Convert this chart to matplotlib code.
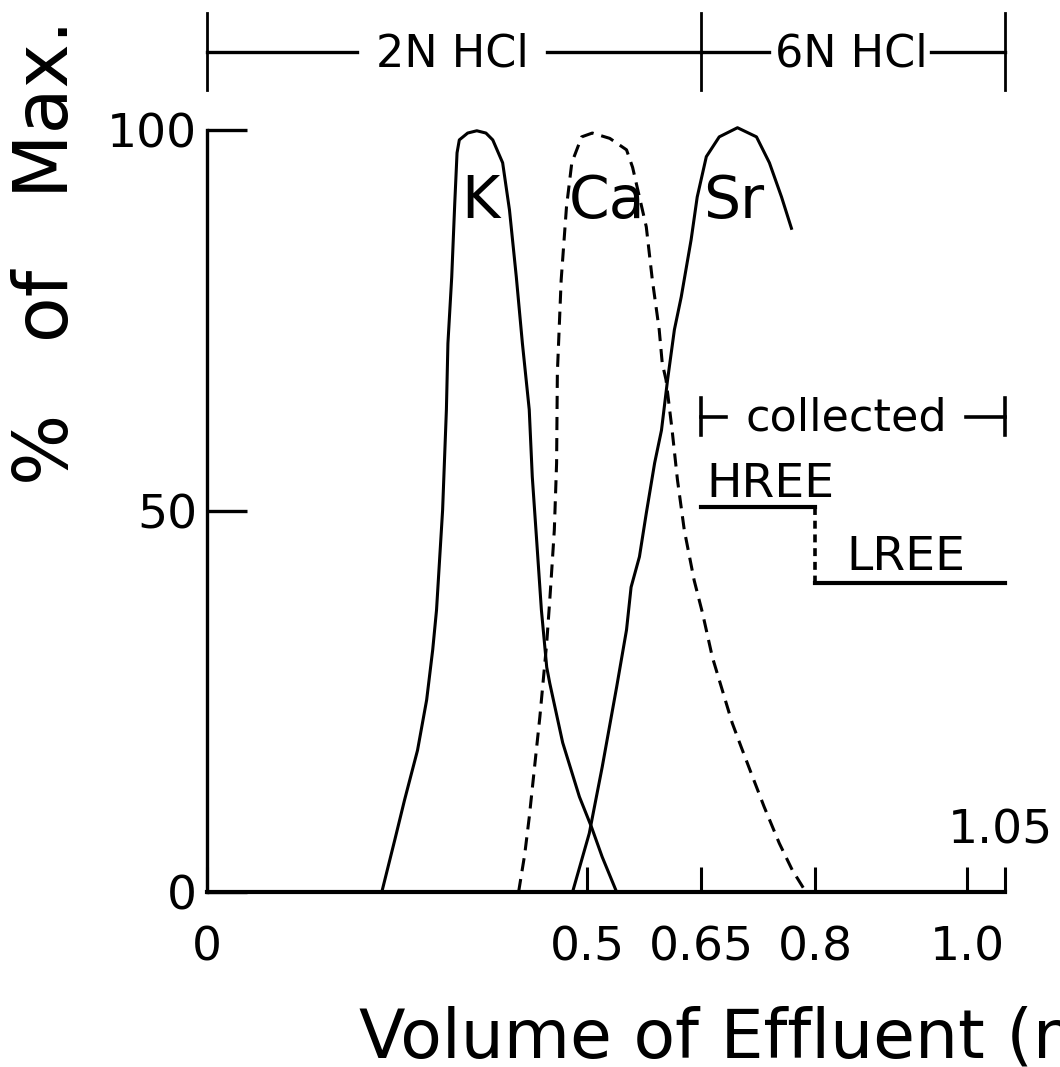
import matplotlib
matplotlib.use("Agg")
import matplotlib.pyplot as plt
from matplotlib import font_manager

# font for numbers: narrow if we have it
names = {f.name for f in font_manager.fontManager.ttflist}
if 'Liberation Sans Narrow' in names:
    num_font = 'Liberation Sans Narrow'
    num_size = 37
else:
    num_font = 'DejaVu Sans'
    num_size = 34
plt.rcParams['font.family'] = ['DejaVu Sans']

# --- data (volume in ml, % of max) ---
k_x = [0.230, 0.247, 0.260, 0.277, 0.289, 0.297, 0.302, 0.310, 0.315, 0.317,
       0.322, 0.326, 0.329, 0.332, 0.343, 0.355, 0.367, 0.376, 0.389, 0.398,
       0.407, 0.415, 0.424, 0.428, 0.434, 0.440, 0.447, 0.451, 0.468, 0.490,
       0.506, 0.520, 0.539]
k_y = [0, 6.8, 12.1, 18.6, 25.2, 31.8, 37.0, 50.1, 63.3, 72.0,
       80.7, 90.4, 97.0, 98.7, 99.6, 99.9, 99.6, 98.7, 95.7, 89.5,
       80.7, 72.0, 63.3, 54.5, 45.8, 37.0, 29.5, 27.4, 19.6, 12.5,
       8.5, 4.6, 0]

ca_x = [0.410, 0.418, 0.424, 0.431, 0.438, 0.447, 0.451, 0.453, 0.457, 0.460,
        0.461, 0.466, 0.473, 0.480, 0.493, 0.507, 0.530, 0.552, 0.560, 0.569,
        0.578, 0.586, 0.595, 0.599, 0.604, 0.612, 0.619, 0.628, 0.641, 0.652,
        0.665, 0.678, 0.691, 0.703, 0.716, 0.733, 0.753, 0.770, 0.788]
ca_y = [0, 4.9, 9.8, 16.4, 23.0, 32.7, 38.3, 41.3, 47.5, 56.3,
        68.1, 80.3, 89.9, 95.7, 99.1, 99.6, 98.9, 97.4, 95.1, 91.2,
        87.3, 80.3, 73.8, 69.4, 67.2, 60.6, 54.1, 47.5, 40.9, 36.6,
        30.8, 26.5, 22.2, 19.0, 15.6, 11.2, 6.4, 2.9, 0]

sr_x = [0.481, 0.503, 0.520, 0.539, 0.552, 0.558, 0.569, 0.578, 0.589, 0.598,
        0.606, 0.615, 0.624, 0.637, 0.645, 0.657, 0.674, 0.698, 0.723, 0.740,
        0.756, 0.769]
sr_y = [0, 7.7, 16.4, 26.9, 34.4, 40.0, 44.0, 49.7, 56.3, 60.6,
        67.2, 73.8, 78.1, 85.6, 91.2, 96.5, 99.1, 100.3, 99.1, 95.7,
        91.2, 87.1]

# REE collection levels
hree_x = [0.65, 0.8]
hree_y = 50.5
lree_x = [0.8, 1.05]
lree_y = 40.5

xticks = [0, 0.5, 0.65, 0.8, 1.0, 1.05]
xticklabels = ['0', '0.5', '0.65', '0.8', '1.0', '']
yticks = [0, 50, 100]
yticklabels = ['0', '50', '100']

fig = plt.figure(figsize=(10.6, 10.67), dpi=100)
ax = fig.add_axes([207/1060, 175/1067, 798/1060, 762/1067])

lw = 2.2
ax.plot(k_x, k_y, color='black', lw=lw, clip_on=False)
ax.plot(ca_x, ca_y, color='black', lw=lw, dashes=(4.3, 2.6), clip_on=False)
ax.plot(sr_x, sr_y, color='black', lw=lw, clip_on=False)

# HREE / LREE step
ax.plot(hree_x, [hree_y, hree_y], color='black', lw=3)
ax.plot([0.8, 0.8], [hree_y, lree_y], color='black', lw=2.6, dashes=(2.2, 1.6))
ax.plot(lree_x, [lree_y, lree_y], color='black', lw=3, clip_on=False)

# element labels
ax.text(0.360, 88.4, 'K', fontsize=42, ha='center', va='baseline')
ax.text(0.526, 88.4, 'Ca', fontsize=42, ha='center', va='baseline')
ax.text(0.693, 88.4, 'Sr', fontsize=42, ha='center', va='baseline')
ax.text(0.741, 51.8, 'HREE', fontsize=34, ha='center', va='baseline')
ax.text(0.919, 42.3, 'LREE', fontsize=34, ha='center', va='baseline')

# collected bracket
cy = 62.3
ax.plot([0.65, 0.65], [60.0, 64.8], color='black', lw=2.6)
ax.plot([0.65, 0.683], [cy, cy], color='black', lw=2.6)
ax.plot([0.999, 1.05], [cy, cy], color='black', lw=2.6, clip_on=False)
ax.plot([1.05, 1.05], [60.0, 64.8], color='black', lw=2.6, clip_on=False)
ax.text(0.841, 60.6, 'collected', fontsize=32, ha='center', va='baseline')

# acid brackets above the plot
by = 110.2
for xv in [0, 0.65, 1.05]:
    ax.plot([xv, xv], [105.2, 115.4], color='black', lw=2, clip_on=False)
ax.plot([0, 0.198], [by, by], color='black', lw=2.4, clip_on=False)
ax.plot([0.448, 0.65], [by, by], color='black', lw=2.4, clip_on=False)
ax.plot([0.65, 0.740], [by, by], color='black', lw=2.4, clip_on=False)
ax.plot([0.952, 1.05], [by, by], color='black', lw=2.4, clip_on=False)
ax.text(0.323, 108.3, '2N HCl', fontsize=32, ha='center', va='baseline')
ax.text(0.848, 108.3, '6N HCl', fontsize=32, ha='center', va='baseline')

ax.set_xlim(0, 1.05)
ax.set_ylim(0, 100)
ax.spines['top'].set_visible(False)
ax.spines['right'].set_visible(False)
ax.spines['bottom'].set_linewidth(3)
ax.spines['left'].set_linewidth(2.4)

ax.set_xticks(xticks)
ax.set_xticklabels(xticklabels, fontfamily=num_font, fontsize=num_size)
ax.set_yticks(yticks)
ax.set_yticklabels(yticklabels, fontfamily=num_font, fontsize=num_size)
ax.tick_params(axis='x', direction='in', length=18, width=2.2, pad=24)
ax.tick_params(axis='y', direction='in', length=29, width=2.4, pad=7)
ax.text(1.1136, 6.4, '1.05', fontfamily=num_font, fontsize=num_size,
        ha='right', va='baseline', clip_on=False)

# x label runs off the right edge as in the original scan
fig.text(359/1060, 9/1067, 'Volume of Effluent (ml)', fontsize=49,
         ha='left', va='baseline')
fig.text(48/1060, 1 - 252/1067, '%   of   Max.', fontsize=54,
         rotation=90, ha='center', va='center')

fig.savefig('out.png', dpi=100)
